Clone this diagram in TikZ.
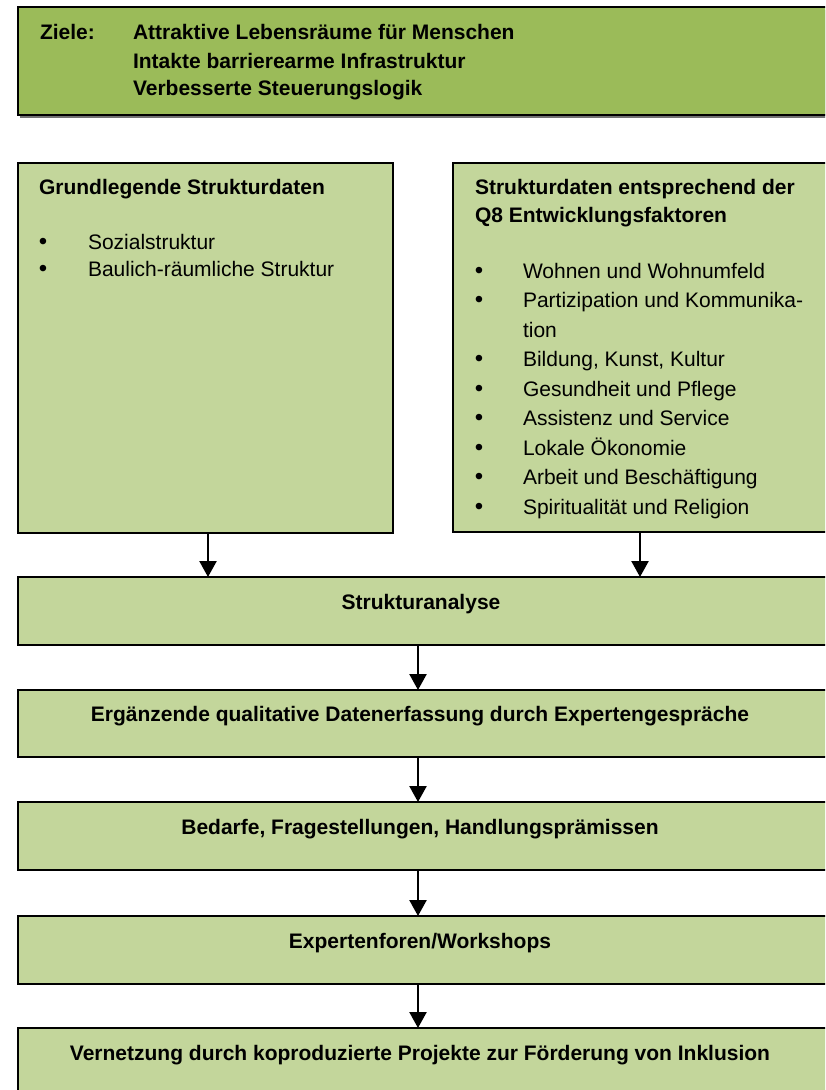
\documentclass[tikz,border=0pt]{standalone}
\usepackage{fontspec}
\setmainfont{Liberation Sans}
\usetikzlibrary{arrows.meta}

\definecolor{goalgreen}{HTML}{9BBB59}
\definecolor{boxgreen}{HTML}{C3D69B}

\begin{document}
\begin{tikzpicture}[x=1pt,y=-1pt,
  every node/.style={inner sep=0pt,outer sep=0pt,font=\fontsize{21}{28}\selectfont},
  box/.style={draw=black,line width=1.8pt,fill=boxgreen,rectangle,anchor=north west},
  goalbox/.style={box,fill=goalgreen},
  txt/.style={anchor=base west},
  ttl/.style={anchor=base west,font=\fontsize{21}{28}\selectfont\bfseries},
  ctr/.style={anchor=base,font=\fontsize{21}{28}\selectfont\bfseries},
  dot/.style={anchor=base,font=\fontsize{24}{28}\selectfont},
  arr/.style={line width=2.4pt,-{Triangle[width=17pt,length=16pt]}}]

\useasboundingbox (0,0) rectangle (825,1090);
\clip (0,0) rectangle (825,1090);

% goals box with a thin shadow
\fill[black!55] (20,10) rectangle (830,118);
\node[goalbox,minimum width=810pt,minimum height=108pt] (goal) at (18,7) {};
\node[ttl] (z0) at (40,39) {Ziele:};
\node[ttl] (z1) at (133,39) {Attraktive Lebensräume für Menschen};
\node[ttl] (z2) at (133,68) {Intakte barrierearme Infrastruktur};
\node[ttl] (z3) at (133,95) {Verbesserte Steuerungslogik};

% upper two data boxes
\node[box,minimum width=375pt,minimum height=370pt] (lbox) at (18,163) {};
\node[box,minimum width=375pt,minimum height=369pt] (rbox) at (453,163) {};

\node[ttl] (lt) at (39,194) {Grundlegende Strukturdaten};
\node[dot] (lb1) at (43,249) {•};
\node[txt] (l1) at (88,249) {Sozialstruktur};
\node[dot] (lb2) at (43,276) {•};
\node[txt] (l2) at (88,276) {Baulich-räumliche Struktur};

\node[ttl] (rt1) at (475,194) {Strukturdaten entsprechend der};
\node[ttl] (rt2) at (475,222) {Q8 Entwicklungsfaktoren};
\node[dot] (rb1) at (479,278) {•};
\node[txt] (r1) at (523,278) {Wohnen und Wohnumfeld};
\node[dot] (rb2) at (479,307.5) {•};
\node[txt] (r2) at (523,307.5) {Partizipation und Kommunika-};
\node[txt] (r2b) at (523,337) {tion};
\node[dot] (rb3) at (479,366.5) {•};
\node[txt] (r3) at (523,366.5) {Bildung, Kunst, Kultur};
\node[dot] (rb4) at (479,396) {•};
\node[txt] (r4) at (523,396) {Gesundheit und Pflege};
\node[dot] (rb5) at (479,425.5) {•};
\node[txt] (r5) at (523,425.5) {Assistenz und Service};
\node[dot] (rb6) at (479,455) {•};
\node[txt] (r6) at (523,455) {Lokale Ökonomie};
\node[dot] (rb7) at (479,484.5) {•};
\node[txt] (r7) at (523,484.5) {Arbeit und Beschäftigung};
\node[dot] (rb8) at (479,514) {•};
\node[txt] (r8) at (523,514) {Spiritualität und Religion};

% process steps
\node[box,minimum width=810pt,minimum height=68pt] (sa) at (18,577) {};
\node[ctr] (sat) at (421,609) {Strukturanalyse};
\node[box,minimum width=810pt,minimum height=67pt] (eq) at (18,690) {};
\node[ctr] (eqt) at (420,721) {Ergänzende qualitative Datenerfassung durch Expertengespräche};
\node[box,minimum width=810pt,minimum height=68pt] (bf) at (18,802) {};
\node[ctr] (bft) at (420,834) {Bedarfe, Fragestellungen, Handlungsprämissen};
\node[box,minimum width=810pt,minimum height=68pt] (ew) at (18,916) {};
\node[ctr] (ewt) at (420,948) {Expertenforen/Workshops};
\node[box,minimum width=810pt,minimum height=68pt] (vn) at (18,1028) {};
\node[ctr] (vnt) at (420,1060) {Vernetzung durch koproduzierte Projekte zur Förderung von Inklusion};

% connectors
\coordinate (la) at (208,0);
\coordinate (ra) at (640,0);
\coordinate (ma) at (418,0);
\draw[arr] (lbox.south -| la) -- (sa.north -| la);
\draw[arr] (rbox.south -| ra) -- (sa.north -| ra);
\draw[arr] (sa.south -| ma) -- (eq.north -| ma);
\draw[arr] (eq.south -| ma) -- (bf.north -| ma);
\draw[arr] (bf.south -| ma) -- (ew.north -| ma);
\draw[arr] (ew.south -| ma) -- (vn.north -| ma);
\end{tikzpicture}
\end{document}
